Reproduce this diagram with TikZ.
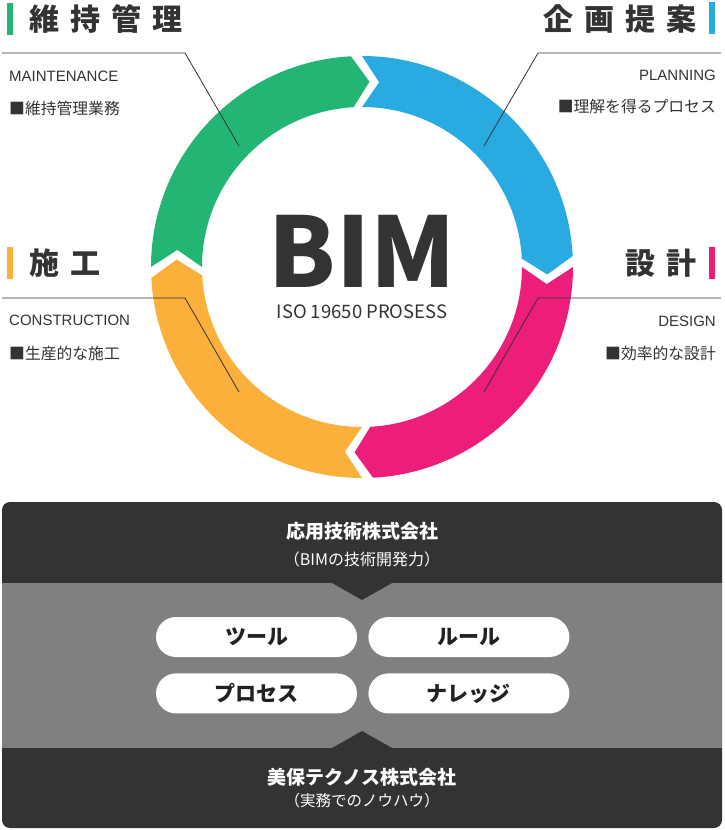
\documentclass[tikz,border=0pt]{standalone}
\usepackage{fontspec}
\setmainfont{Noto Sans CJK JP}
\newfontfamily\latinfont{Liberation Sans}
\usetikzlibrary{positioning,calc}
\definecolor{bimgreen}{RGB}{35,181,116}
\definecolor{bimblue}{RGB}{41,171,226}
\definecolor{bimpink}{RGB}{236,30,121}
\definecolor{bimorange}{RGB}{251,176,59}
\definecolor{darkbg}{RGB}{51,51,51}
\definecolor{midbg}{RGB}{128,128,128}
\definecolor{txt}{RGB}{51,51,51}
\newcommand\hgap{\hspace{11pt}}

\begin{document}
\begin{tikzpicture}[x=1pt,y=-1pt,
    heading/.style={inner sep=0, font=\fontsize{30}{30}\selectfont\bfseries, text=txt},
    sub/.style={inner sep=0, font=\fontsize{15.8}{15.8}\selectfont, text=txt},
    eng/.style={inner sep=0, font=\latinfont\fontsize{15}{15}\selectfont, text=txt},
    leader/.style={draw=txt, line width=0.8pt},
    pill/.style={fill=white, rounded corners=20pt, minimum width=201pt, minimum height=40pt, inner sep=0, font=\fontsize{21}{21}\selectfont\bfseries, text=black!87},
    band/.style={inner sep=0, text=white}
]
\useasboundingbox (0,0) rectangle (724,830);

% ring of four arrows, clockwise
\begin{scope}[shift={(362,267)}, y=1pt]
\foreach \s/\col in {90/bimblue, 0/bimpink, -90/bimorange, 180/bimgreen}{
    \pgfmathsetmacro\e{\s-87}
    \fill[\col] (\s:211) arc[start angle=\s, end angle=\e, radius=211]
        -- ({\e-5.3}:185.5) -- (\e:160) arc[start angle=\e, end angle=\s, radius=160]
        -- ({\s-5.3}:185.5) -- cycle;
}
\end{scope}

\node[font=\fontsize{97}{97}\selectfont\bfseries, text=txt, inner sep=0] (bim) at (362,251) {BIM};
\node[font=\fontsize{18.5}{18.5}\selectfont, text=txt, inner sep=0] (iso) at (362,312) {ISO 19650 PROSESS};

% headings
\fill[bimgreen] (7,3) rectangle (13,35);
\node[heading, anchor=west] (maint) at (29,19) {維\hgap 持\hgap 管\hgap 理};
\node[eng, anchor=west] (mainten) at (9,76.5) {MAINTENANCE};
\node[sub, anchor=west] (maintsub) at (9,108) {■維持管理業務};

\fill[bimblue] (709,2) rectangle (715,34);
\node[heading, anchor=east] (plan) at (697,19) {企\hgap 画\hgap 提\hgap 案};
\node[eng, anchor=east] (planning) at (716,75) {PLANNING};
\node[sub, anchor=east] (plansub) at (716,107) {■理解を得るプロセス};

\fill[bimorange] (7,247) rectangle (13,279);
\node[heading, anchor=west] (cons) at (29,263) {施\hgap 工};
\node[eng, anchor=west] (construction) at (9,320) {CONSTRUCTION};
\node[sub, anchor=west] (conssub) at (9,353) {■生産的な施工};

\fill[bimpink] (709,247) rectangle (715,279);
\node[heading, anchor=east] (design) at (697,263) {設\hgap 計};
\node[eng, anchor=east] (designen) at (716,321) {DESIGN};
\node[sub, anchor=east] (designsub) at (716,353) {■効率的な設計};

% leader lines
\coordinate (g0) at (2,53);    \coordinate (g1) at (185,53);  \coordinate (g2) at (239,146);
\coordinate (b0) at (721,53);  \coordinate (b1) at (538,53);  \coordinate (b2) at (484,146);
\coordinate (o0) at (2,298);   \coordinate (o1) at (185,298); \coordinate (o2) at (239,392);
\coordinate (p0) at (721,298); \coordinate (p1) at (538,298); \coordinate (p2) at (484,392);
\draw[leader] (g0) -- (g1) -- (g2);
\draw[leader] (b0) -- (b1) -- (b2);
\draw[leader] (o0) -- (o1) -- (o2);
\draw[leader] (p0) -- (p1) -- (p2);

% bottom panel
\fill[darkbg, rounded corners=8pt] (2,502) rectangle (722,828);
\fill[midbg] (2,583) rectangle (722,748);
\fill[darkbg] (332,583) -- (362,600) -- (392,583) -- cycle;
\fill[darkbg] (332,748) -- (362,731) -- (392,748) -- cycle;

\node[band, font=\fontsize{19}{19}\selectfont\bfseries] (ouyou) at (362,531) {応用技術株式会社};
\node[band, font=\fontsize{16}{16}\selectfont] (ouyousub) at (362,559) {（BIMの技術開発力）};

\node[pill] (tool) at (256.5,637) {ツール};
\node[pill, right=11pt of tool] (rule) {ルール};
\node[pill, below=16pt of tool] (process) {プロセス};
\node[pill, below=16pt of rule] (knowledge) {ナレッジ};

\node[band, font=\fontsize{19}{19}\selectfont\bfseries] (miho) at (362,777) {美保テクノス株式会社};
\node[band, font=\fontsize{15.5}{15.5}\selectfont] (mihosub) at (362,801) {（実務でのノウハウ）};
\end{tikzpicture}
\end{document}
